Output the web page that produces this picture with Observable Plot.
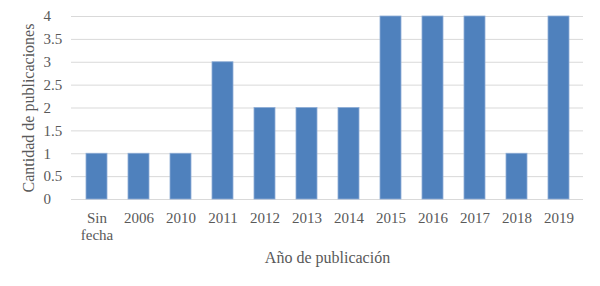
<!DOCTYPE html>
<html>
<head>
<meta charset="utf-8">
<script src="https://cdn.jsdelivr.net/npm/d3@7"></script>
<script src="https://cdn.jsdelivr.net/npm/@observablehq/plot@0.6"></script>
<style>
  html, body { margin: 0; padding: 0; background: #fff; }
  #chart { width: 600px; height: 286px; }
  #chart svg, #chart svg text { font-family: 'Liberation Serif', 'DejaVu Serif', serif !important; }
</style>
</head>
<body>
<div id="chart"></div>
<script>
const categories = ["Sin\nfecha", "2006", "2010", "2011", "2012", "2013", "2014", "2015", "2016", "2017", "2018", "2019"];
const values = [1, 1, 1, 3, 2, 2, 2, 4, 4, 4, 1, 4];
const yTicks = [0, 0.5, 1, 1.5, 2, 2.5, 3, 3.5, 4];
const xTitle = "Año de publicación";
const yTitle = "Cantidad de publicaciones";

const data = categories.map((c, i) => ({cat: c, val: values[i]}));
const font = "'Liberation Serif', 'DejaVu Serif', serif";
const textColor = "#595959";

const chart = Plot.plot({
  width: 600,
  height: 286,
  marginTop: 16,
  marginBottom: 87,
  marginLeft: 71,
  marginRight: 17,
  style: {fontFamily: font, fontSize: "15px", color: textColor, background: "#fff"},
  x: {domain: categories, paddingInner: 0.5, paddingOuter: 0.25, label: null, axis: null},
  y: {domain: [0, 4], label: null, axis: null},
  marks: [
    Plot.ruleY(yTicks, {stroke: "#d9d9d9", strokeWidth: 1}),
    Plot.barY(data, {x: "cat", y: "val", fill: "#4f81bd", stroke: "#8eadd6", strokeWidth: 0.8}),
    Plot.axisX({tickSize: 0, tickPadding: 11, fontSize: 15, fontFamily: font, fill: textColor, lineHeight: 1.15, label: null, textAnchor: "middle"}),
    Plot.text(yTicks, {y: d => d, text: d => String(d), frameAnchor: "left", dx: -28, textAnchor: "start", fill: textColor, fontSize: 15, fontFamily: font}),
    Plot.text([xTitle], {frameAnchor: "bottom", dy: 63, fill: textColor, fontSize: 16, fontFamily: font}),
    Plot.text([yTitle], {frameAnchor: "left", dx: -43, rotate: -90, textAnchor: "middle", fill: textColor, fontSize: 16, fontFamily: font})
  ]
});
document.getElementById("chart").appendChild(chart);
</script>
</body>
</html>
